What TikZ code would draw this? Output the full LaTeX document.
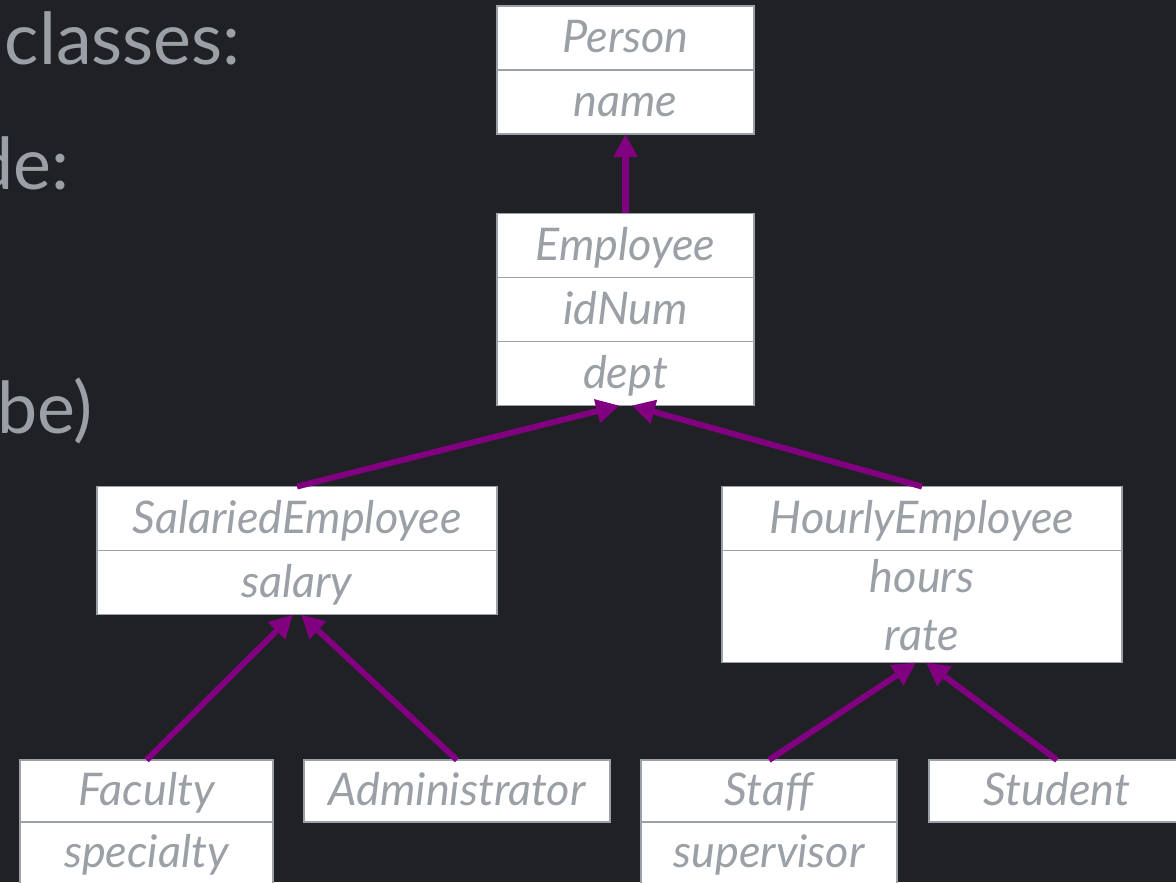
\documentclass[tikz,border=0pt]{standalone}
\usepackage{fontspec}
\setmainfont{Lato}
\usetikzlibrary{arrows.meta, positioning}
\definecolor{slidebg}{RGB}{32, 33, 36}
\definecolor{slidegray}{RGB}{154, 160, 166}
\definecolor{inheritcolor}{RGB}{128, 0, 128}

\begin{document}
\begin{tikzpicture}[
    x=0.025cm, y=-0.025cm,
    node distance=0pt,
    >={Triangle[length=0.58cm, width=0.58cm]},
    cell/.style={rectangle, draw=slidegray, fill=white, line width=1pt, outer sep=0pt, inner sep=0pt, minimum height=1.6cm, font=\fontsize{32}{41}\selectfont\itshape, text=slidegray, text height=22pt, text depth=1pt},
    slide/.style={font=\fontsize{51}{60}\selectfont, text=slidegray, anchor=base east, inner sep=0pt},
    arrow/.style={->, line width=4.3pt, inheritcolor}
]

% Slide background
\path[use as bounding box, fill=slidebg] (0,0) rectangle (1176,882);
\clip (0,0) rectangle (1176,882);

% Slide text (cut off at the left)
\node[slide] (subclasses) at (241,64) {classes:};
\node[slide] (include) at (70,189) {de:};
\node[slide] (maybe) at (93,433) {ybe)};

% Person
\node[cell, minimum width=6.43cm] (person) at (625.5,38) {Person};
\node[cell, minimum width=6.43cm, below=of person] (person-name) {name};

% Employee
\node[cell, minimum width=6.43cm] (employee) at (625.5,245.5) {Employee};
\node[cell, minimum width=6.43cm, below=of employee] (employee-id) {idNum};
\node[cell, minimum width=6.43cm, below=of employee-id] (employee-dept) {dept};

% SalariedEmployee
\node[cell, minimum width=10cm] (salaried) at (297,518.5) {SalariedEmployee};
\node[cell, minimum width=10cm, below=of salaried] (salaried-salary) {salary};

% HourlyEmployee
\node[cell, minimum width=10cm] (hourly) at (922,518.5) {HourlyEmployee};
\node[cell, minimum width=10cm, minimum height=2.8cm, text height=63pt, align=center, below=of hourly] (hourly-attr) {hours\\rate};

% Faculty
\node[cell, minimum width=6.33cm, minimum height=1.55cm] (faculty) at (146.5,791) {Faculty};
\node[cell, minimum width=6.33cm, minimum height=1.55cm, below=of faculty] (faculty-specialty) {specialty};

% Administrator
\node[cell, minimum width=7.65cm, minimum height=1.55cm] (admin) at (457,791) {Administrator};

% Staff
\node[cell, minimum width=6.4cm, minimum height=1.55cm] (staff) at (769,791) {Staff};
\node[cell, minimum width=6.4cm, minimum height=1.55cm, below=of staff] (staff-supervisor) {supervisor};

% Student
\node[cell, minimum width=6.4cm, minimum height=1.55cm] (student) at (1057,791) {Student};

% Inheritance arrows
\draw[arrow] (employee.north) -- (person-name.south);
\draw[arrow] (salaried.north) -- ([xshift=-0.15cm]employee-dept.south);
\draw[arrow] (hourly.north) -- ([xshift=0.15cm]employee-dept.south);
\draw[arrow] (faculty.north) -- ([xshift=-0.1cm]salaried-salary.south);
\draw[arrow] (admin.north) -- ([xshift=0.1cm]salaried-salary.south);
\draw[arrow] (staff.north) -- ([xshift=-0.15cm]hourly-attr.south);
\draw[arrow] (student.north) -- ([xshift=0.1cm]hourly-attr.south);

\end{tikzpicture}
\end{document}
